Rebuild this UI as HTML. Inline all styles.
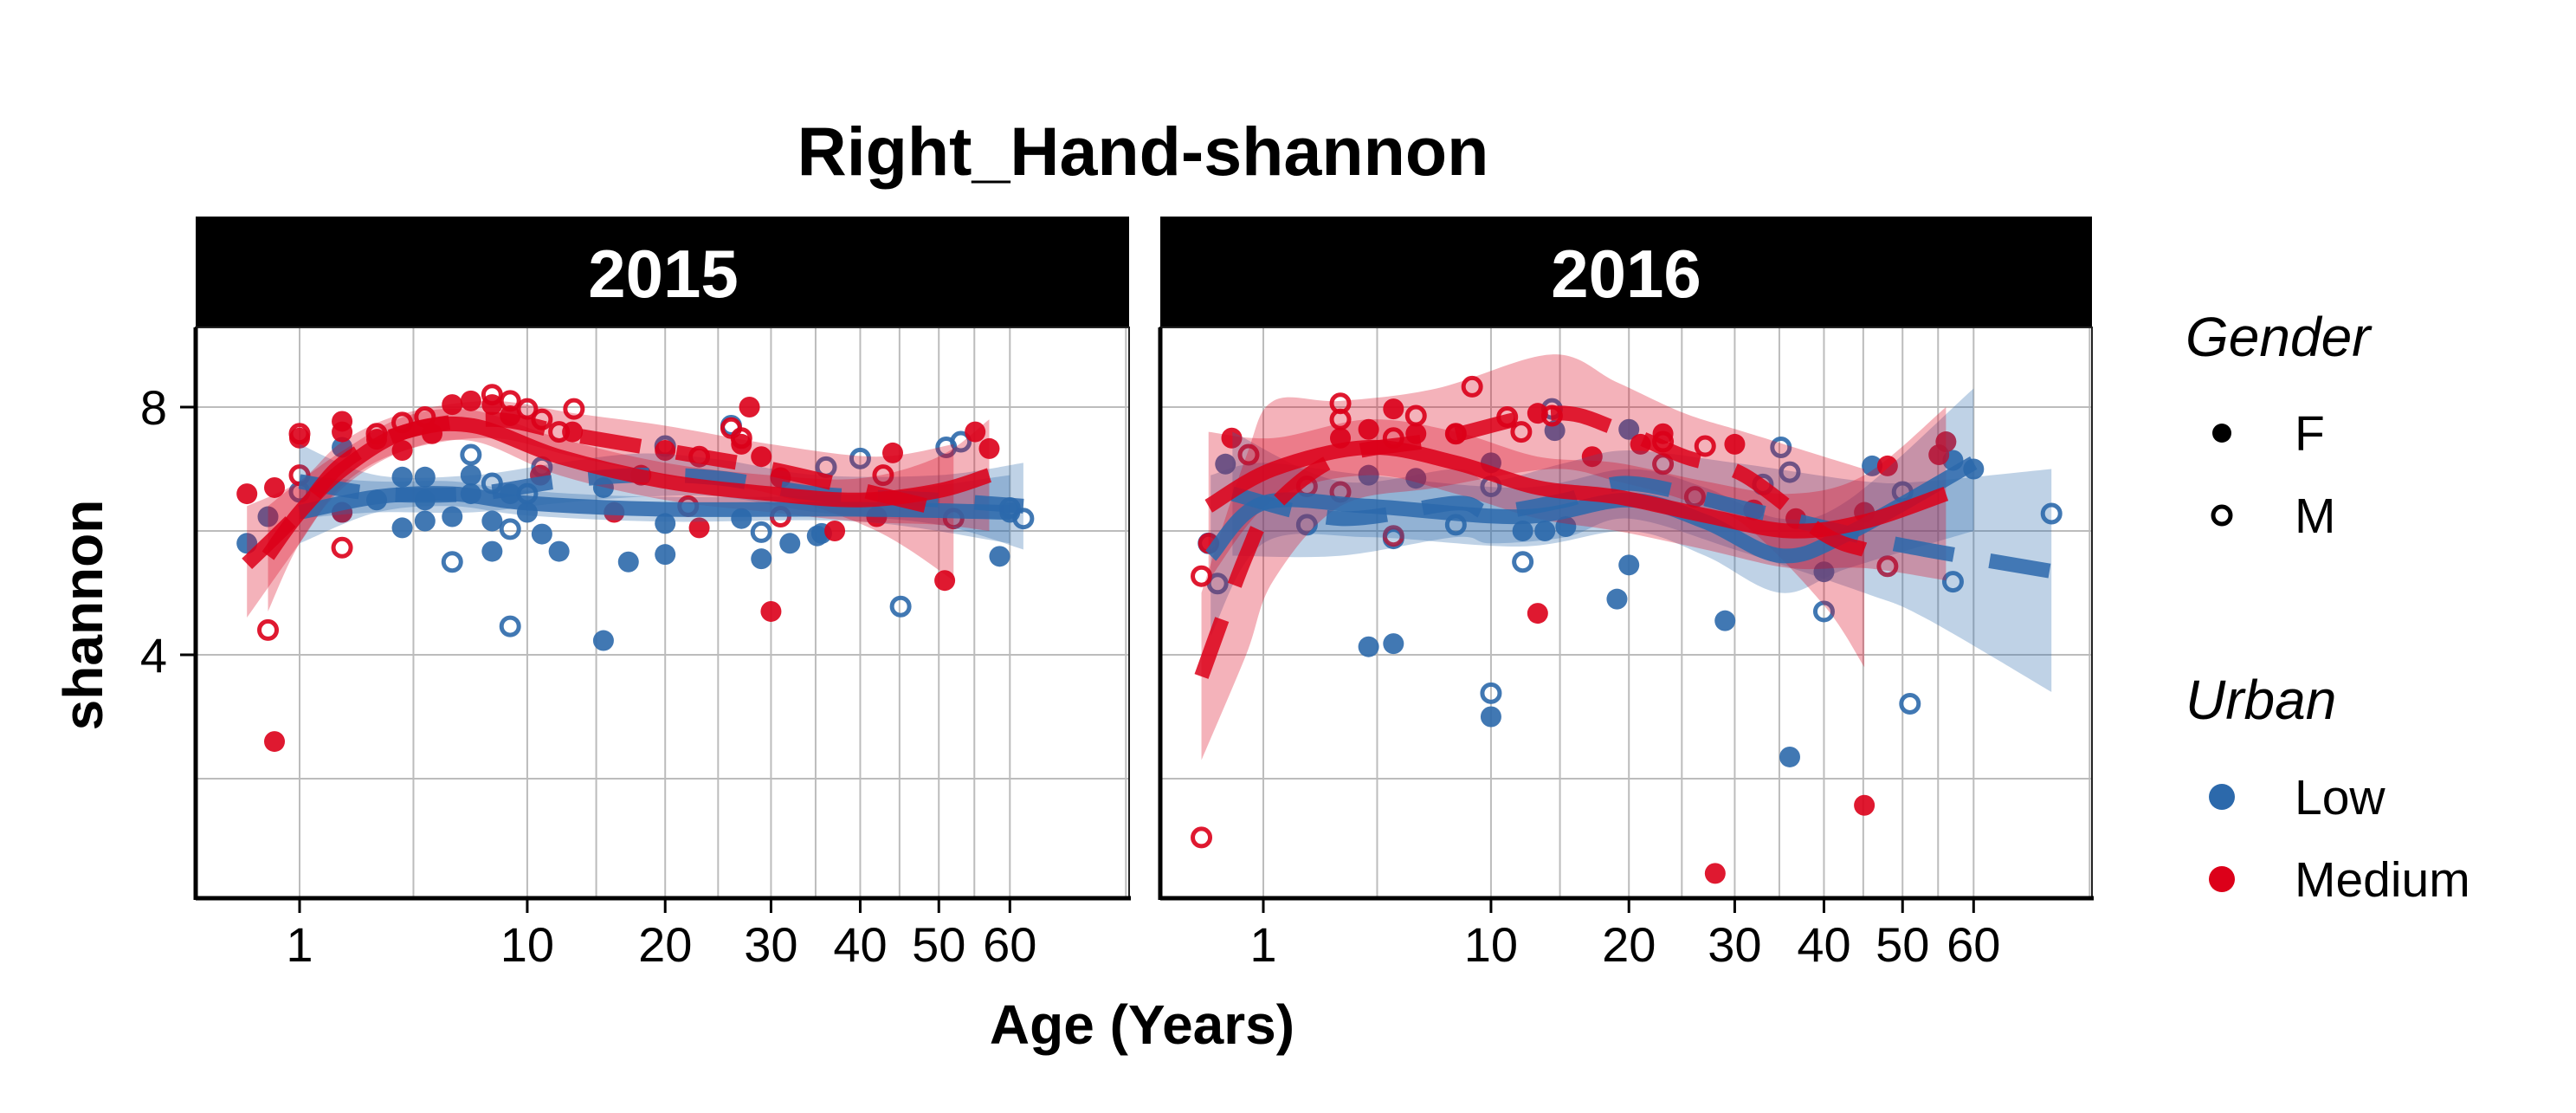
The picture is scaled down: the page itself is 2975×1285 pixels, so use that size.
<!DOCTYPE html>
<html><head><meta charset="utf-8"><style>
html,body{margin:0;padding:0;background:#fff;}
svg{display:block;font-family:"Liberation Sans",sans-serif;}
</style></head><body>
<svg id="chart" width="2975" height="1285" viewBox="0 0 2975 1285" xmlns="http://www.w3.org/2000/svg">
<defs>
<clipPath id="clipL"><rect x="226" y="378" width="1078" height="659"/></clipPath>
<clipPath id="clipR"><rect x="1340" y="378" width="1076" height="659"/></clipPath>
</defs>
<rect width="2975" height="1285" fill="#fff"/>
<text x="1320" y="202" font-size="79" font-weight="bold" text-anchor="middle">Right_Hand-shannon</text>
<rect x="226" y="250" width="1078" height="128" fill="#000"/>
<text x="766" y="343" font-size="78" font-weight="bold" fill="#fff" text-anchor="middle">2015</text>
<rect x="1340" y="250" width="1076" height="128" fill="#000"/>
<text x="1878" y="343" font-size="78" font-weight="bold" fill="#fff" text-anchor="middle">2016</text>
<g id="panelL"></g>
<g id="panelR"></g>
<text transform="translate(118,710) rotate(-90)" font-size="64" font-weight="bold" text-anchor="middle">shannon</text>
<text x="1319" y="1205" font-size="64" font-weight="bold" text-anchor="middle">Age (Years)</text>
<g>
<text x="2524" y="411" font-size="64" font-style="italic">Gender</text>
<circle cx="2566" cy="500" r="11" fill="#000"/>
<text x="2650" y="520" font-size="57">F</text>
<circle cx="2566" cy="595" r="10" fill="none" stroke="#000" stroke-width="5"/>
<text x="2650" y="615" font-size="57">M</text>
<text x="2524" y="830" font-size="64" font-style="italic">Urban</text>
<circle cx="2566" cy="920" r="15" fill="#2C69AB"/>
<text x="2650" y="940" font-size="57">Low</text>
<circle cx="2566" cy="1015" r="15" fill="#DC0019"/>
<text x="2650" y="1035" font-size="57">Medium</text>
</g>
</svg>
<script>
const NS="http://www.w3.org/2000/svg";
const COL={Low:"#2C69AB",Medium:"#DC0019"};
const xBreaks=[1,10,20,30,40,50,60];
const yBreaks=[4,8];
const yGrid=[2,4,6,8];
// points: [age, shannon]
const L_MedF=[[0.25,6.6],[0.58,6.7],[0.58,2.6],[1,7.5],[1.97,7.77],[1.97,7.6],[1.97,6.3],[3,7.48],[6,8.04],[6.9,8.1],[8,8.04],[9,7.86],[10.8,6.9],[12.9,7.6],[15.9,6.3],[18,6.9],[20,7.3],[23,6.05],[27,7.4],[27.8,8.0],[29,7.2],[30,4.7],[31,6.86],[37,6.0],[44,7.26],[42,6.23],[50.8,5.2],[55,7.6],[57,7.33],[5.1,7.57],[3.9,7.3]];
const L_MedM=[[0.49,4.4],[1,7.57],[1,6.9],[1.97,5.73],[3,7.57],[3.9,7.75],[4.8,7.84],[8,8.2],[9,8.1],[10,7.97],[10.9,7.8],[13,7.97],[12,7.6],[26,7.66],[27,7.5],[23,7.2],[31,6.23],[42.8,6.9],[52,6.2],[22,6.4]];
const L_LowF=[[0.25,5.8],[0.49,6.23],[1.97,7.35],[1.97,6.3],[3,6.5],[3.9,6.87],[3.9,6.05],[4.8,6.87],[4.8,6.16],[6,6.23],[6.9,6.9],[8,6.16],[8,5.67],[9,6.6],[10,6.3],[10.9,5.95],[12,5.67],[15.1,4.23],[17,5.5],[15.1,6.7],[20,6.12],[20,5.62],[29,5.55],[27,6.2],[32,5.8],[35,5.92],[35.5,5.96],[58.5,5.59],[60,6.3],[6.9,6.6],[4.8,6.5]];
const L_LowM=[[1,6.63],[6,5.5],[9,4.46],[9,6.03],[6.9,7.23],[10,6.6],[10.9,7.03],[20,7.37],[26,7.7],[29,5.98],[36,7.03],[40,7.17],[45,4.78],[51,7.35],[53,7.44],[60,6.37],[62,6.2],[8,6.77]];
const R_MedF=[[0.23,5.8],[0.49,7.5],[5,7.97],[4,7.64],[6,7.57],[8,7.57],[13,7.9],[13,4.67],[17,7.2],[21,7.4],[23,7.57],[30,7.4],[28,0.47],[32,6.34],[45,1.57],[45,6.3],[48,7.05],[55,7.23],[56,7.44],[3,7.5],[36.7,6.2]];
const R_MedM=[[0.17,5.27],[0.17,1.05],[0.74,7.23],[2,6.72],[3,8.06],[3,7.8],[3,6.63],[5,5.92],[6,7.86],[8.9,8.33],[11,7.84],[11.9,7.6],[14,7.86],[23,7.44],[23,7.08],[26,6.55],[27,7.37],[48,5.43],[5,7.5],[8,7.57]];
const R_LowF=[[0.41,7.08],[4,4.13],[5,4.18],[10,3.0],[20,5.45],[19,4.9],[29,4.55],[36,2.35],[57,7.14],[60,7.0],[20,7.64],[4,6.9],[12,6.0],[13.5,6.0],[15,6.07],[6,6.85],[40,5.34],[46,7.05],[14.2,7.62],[10,7.1]];
const R_LowM=[[0.23,5.8],[0.32,5.15],[2,6.1],[5,5.88],[8,6.1],[10,3.38],[12,5.5],[14,7.97],[10,6.72],[35,7.35],[36,6.95],[33,6.75],[40,4.7],[50,6.63],[51,3.21],[57,5.18],[72,6.28]];
// smooth fits: [age, fit, lower, upper]
const L_fitLowF=[[1,6.3,5.8,6.9],[3,6.55,6.3,6.8],[6,6.6,6.4,6.8],[10,6.45,6.25,6.65],[20,6.35,6.15,6.55],[40,6.35,6.15,6.6],[60,6.3,5.8,6.9]];
const L_fitLowM=[[1,6.8,6.2,7.4],[3,6.6,6.3,6.9],[7,6.6,6.3,6.9],[12,6.8,6.45,7.1],[18,6.9,6.55,7.25],[25,6.85,6.55,7.15],[35,6.6,6.3,6.9],[50,6.5,6.1,6.9],[62,6.4,5.7,7.1]];
const L_fitMedF=[[0.49,5.6,4.7,6.4],[1,6.3,5.8,6.8],[2,7.0,6.7,7.3],[4,7.6,7.3,7.85],[7,7.7,7.45,7.95],[12,7.2,6.9,7.5],[20,6.8,6.5,7.1],[30,6.6,6.3,6.9],[40,6.5,6.15,6.85],[50,6.65,6.1,7.2],[57,6.9,6.0,7.8]];
const L_fitMedM=[[0.25,5.47,4.6,6.4],[1,6.3,5.8,6.8],[2,7.1,6.75,7.45],[4,7.6,7.3,7.9],[8,7.8,7.5,8.1],[13,7.55,7.2,7.9],[20,7.3,6.9,7.7],[30,7.0,6.6,7.4],[42,6.6,6.0,7.2],[52,6.3,5.2,7.4]];
const R_fitLowF=[[0.25,5.6,4.3,6.9],[1,6.45,5.8,7.1],[4,6.4,5.9,6.9],[12,6.23,5.75,6.7],[20,6.5,6.0,7.0],[27,6.15,5.6,6.7],[35,5.6,5.0,6.2],[43,5.96,5.4,6.5],[60,7.1,6.0,8.3]];
const R_fitLowM=[[0.5,6.6,5.6,7.6],[3,6.2,5.6,6.8],[8,6.45,5.9,7.0],[10,6.3,5.8,6.8],[15,6.5,5.9,7.1],[20,6.77,6.2,7.3],[30,6.4,5.7,7.1],[45,5.9,5.0,6.8],[53,5.7,4.6,6.8],[72,5.35,3.4,7.0]];
const R_fitMedF=[[0.23,6.4,5.2,7.6],[1.2,7.0,6.5,7.5],[4,7.35,6.9,7.8],[8,7.1,6.6,7.6],[13,6.7,6.2,7.2],[19,6.55,6.0,7.1],[27,6.25,5.7,6.8],[36,6.0,5.4,6.6],[45,6.15,5.4,6.9],[56,6.6,5.2,8.0]];
const R_fitMedM=[[0.17,3.65,2.3,5.0],[0.7,5.6,4.0,7.2],[1.2,6.4,5.2,8.1],[3,7.2,6.4,8.1],[7,7.48,6.7,8.3],[14,7.9,7.0,8.85],[19,7.65,6.8,8.4],[25,7.2,6.5,7.9],[31,6.9,6.1,7.6],[40,5.95,4.8,7.2],[45,5.7,3.8,7.0]];

const Y0=378,Y1=1037;
const yPx=v=>1042-71.5*v;
const panels=[
 {g:"panelL",clip:"clipL",x0:226,x1:1304,xPx:a=>224.4+121.6*Math.sqrt(a),
  pts:{LowF:L_LowF,LowM:L_LowM,MedF:L_MedF,MedM:L_MedM},
  fits:{LowF:L_fitLowF,LowM:L_fitLowM,MedF:L_fitMedF,MedM:L_fitMedM}},
 {g:"panelR",clip:"clipR",x0:1340,x1:2416,xPx:a=>1337.4+121.6*Math.sqrt(a),
  pts:{LowF:R_LowF,LowM:R_LowM,MedF:R_MedF,MedM:R_MedM},
  fits:{LowF:R_fitLowF,LowM:R_fitLowM,MedF:R_fitMedF,MedM:R_fitMedM}}
];
function mk(tag,attrs,parent){const e=document.createElementNS(NS,tag);for(const k in attrs)e.setAttribute(k,attrs[k]);parent.appendChild(e);return e;}
function cr(pts){let d="M"+pts[0][0]+","+pts[0][1];
 for(let i=0;i<pts.length-1;i++){const p0=pts[i-1]||pts[i],p1=pts[i],p2=pts[i+1],p3=pts[i+2]||p2;
  const c1=[p1[0]+(p2[0]-p0[0])/6,p1[1]+(p2[1]-p0[1])/6],c2=[p2[0]-(p3[0]-p1[0])/6,p2[1]-(p3[1]-p1[1])/6];
  d+=" C"+c1[0]+","+c1[1]+" "+c2[0]+","+c2[1]+" "+p2[0]+","+p2[1];}
 return d;}
panels.forEach((P,pi)=>{
 const g=document.getElementById(P.g);
 const grid=mk("g",{},g);
 
 
 yGrid.forEach(v=>{const l=mk("line",{x1:P.x0,x2:P.x1,y1:yPx(v),y2:yPx(v),stroke:"#bcbcbc","stroke-width":2},grid);
  
  });
 const sb=xBreaks.map(Math.sqrt).concat([Math.sqrt(99)]);
 const allS=[];
 for(let i=0;i<sb.length-1;i++){allS.push(sb[i]);allS.push((sb[i]+sb[i+1])/2);}
 allS.forEach(s=>{const x=P.xPx(s*s);if(x>P.x1)return;const l=mk("line",{x1:x,x2:x,y1:Y0,y2:Y1,stroke:"#bcbcbc","stroke-width":2},grid);
  
  });
 mk("rect",{x:P.x0,y:Y0,width:P.x1-P.x0,height:Y1-Y0,fill:"none",stroke:"#222","stroke-width":2},g);
 const body=mk("g",{"clip-path":"url(#"+P.clip+")"},g);
 ["LowF","LowM","MedF","MedM"].forEach(k=>{
  const c=k.startsWith("Low")?COL.Low:COL.Medium, male=k.endsWith("M");
  P.pts[k].forEach(p=>{
   const e=mk("circle",{cx:P.xPx(p[0]),cy:yPx(p[1]),r:male?10:12,fill:male?"none":c,stroke:c,"stroke-width":male?5:0,opacity:0.9},body);
   
   
  });
 });
 ["LowF","LowM","MedF","MedM"].forEach(k=>{
  const c=k.startsWith("Low")?COL.Low:COL.Medium;const f=P.fits[k];
  const up=f.map(r=>[P.xPx(r[0]),yPx(r[3])]),lo=f.map(r=>[P.xPx(r[0]),yPx(r[2])]).reverse();
  const dl=cr(lo);
  const d=cr(up)+" L"+lo[0][0]+","+lo[0][1]+dl.slice(dl.indexOf(" "))+" Z";
  const e=mk("path",{d:d,fill:c,"fill-opacity":0.3},body);
  
  
 });
 ["LowF","LowM","MedF","MedM"].forEach(k=>{
  const c=k.startsWith("Low")?COL.Low:COL.Medium;const f=P.fits[k];
  const a={d:cr(f.map(r=>[P.xPx(r[0]),yPx(r[1])])),fill:"none",stroke:c,"stroke-width":17,"stroke-opacity":0.85};
  if(k.endsWith("M"))a["stroke-dasharray"]="70 42";
  const e=mk("path",a,body);
  
  
 });
 mk("line",{x1:P.x0,x2:P.x1+2,y1:Y1,y2:Y1,stroke:"#000","stroke-width":5},g);
 mk("line",{x1:P.x0,x2:P.x0,y1:Y0,y2:Y1+2,stroke:"#000","stroke-width":5},g);
 xBreaks.forEach(b=>{const x=P.xPx(b);
  mk("line",{x1:x,x2:x,y1:Y1,y2:Y1+17,stroke:"#000","stroke-width":3},g);
  const t=mk("text",{x:x,y:1110,"font-size":56,"text-anchor":"middle"},g);t.textContent=b;
  
  
 });
 if(pi===0){yBreaks.forEach(v=>{
  mk("line",{x1:P.x0-18,x2:P.x0,y1:yPx(v),y2:yPx(v),stroke:"#000","stroke-width":3},g);
  const t=mk("text",{x:193,y:yPx(v)+20,"font-size":56,"text-anchor":"end"},g);t.textContent=v;
  
  
 });}
});
</script>
</body></html>
